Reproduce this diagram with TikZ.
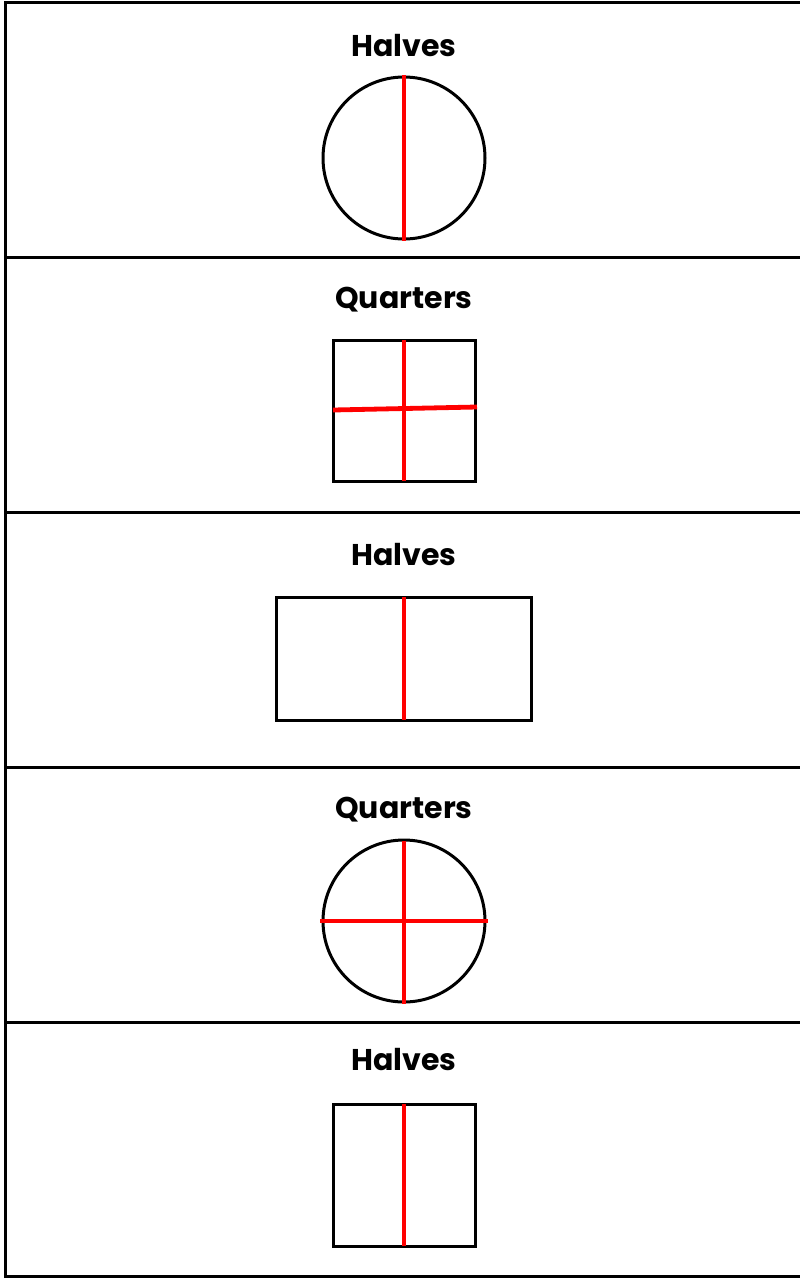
\documentclass[tikz,border=0pt]{standalone}
\usepackage{fontspec}
\setmainfont{Poppins}
\begin{document}
\begin{tikzpicture}[x=1pt,y=-1pt,
  frame/.style={draw=black,line width=3pt},
  outline/.style={draw=black,line width=3pt},
  cut/.style={draw=red,line width=4.8pt},
  title/.style={anchor=base,inner sep=0pt,font=\fontsize{30}{36}\selectfont\bfseries}]
\useasboundingbox (0,0) rectangle (800,1278);
% panels
\draw[frame] (5,2) rectangle (806,1276);
\foreach \y in {257,512,767,1022}
  \draw[frame] (5,\y) -- (806,\y);
% titles
\node[title] (halvesA) at (404,56) {Halves};
\node[title] (quartersA) at (404,308) {Quarters};
\node[title] (halvesB) at (404,565) {Halves};
\node[title] (quartersB) at (404,818) {Quarters};
\node[title] (halvesC) at (404,1070) {Halves};
% circle in halves
\draw[outline] (404,158) circle (81);
\draw[cut] (404,75) -- (404,241);
% square in quarters
\draw[outline] (333,340) rectangle (475,481);
\draw[cut] (404,340) -- (404,481);
\draw[cut] (333,410) -- (477,407);
% rectangle in halves
\draw[outline] (276,597) rectangle (531,720);
\draw[cut] (404,597) -- (404,720);
% circle in quarters
\draw[outline] (404,921) circle (81);
\draw[cut] (404,841) -- (404,1004);
\draw[cut] (320,921) -- (488,921);
% square in halves
\draw[outline] (333,1104) rectangle (475,1246);
\draw[cut] (404,1104) -- (404,1246);
\end{tikzpicture}
\end{document}
